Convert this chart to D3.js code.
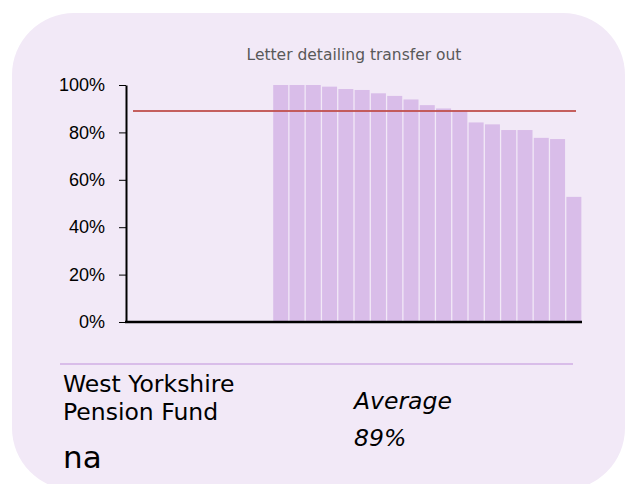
<!DOCTYPE html>
<html>
<head>
<meta charset="utf-8">
<script src="https://cdn.jsdelivr.net/npm/d3@7"></script>
<style>
  html, body { margin: 0; padding: 0; background: #ffffff; }
  svg { display: block; }
</style>
</head>
<body>
<svg id="chart" width="626" height="484"></svg>
<script>
// Funds in ranked order; the first nine have no reported figure.
const categories = [
  "F01","F02","F03","F04","F05","F06","F07","F08","F09","F10",
  "F11","F12","F13","F14","F15","F16","F17","F18","F19","F20",
  "F21","F22","F23","F24","F25","F26","F27","F28"
];
const values = [
  null, null, null, null, null, null, null, null, null,
  100, 100, 100, 99.3, 98.3, 97.9, 96.5, 95.4, 93.9, 91.5,
  90.1, 89.2, 84.2, 83.4, 81.0, 81.0, 77.7, 77.2, 52.8
];
const yTickValues = [0, 20, 40, 60, 80, 100];
const yTickLabels = ["0%", "20%", "40%", "60%", "80%", "100%"];
const averageValue = 89;
const chartTitle = "Letter detailing transfer out";
const fundName = ["West Yorkshire", "Pension Fund"];
const fundValue = "na";
const averageLabel = ["Average", "89%"];

const svg = d3.select("#chart");

// Card background
svg.append("rect")
  .attr("x", 12).attr("y", 13)
  .attr("width", 613).attr("height", 477)
  .attr("rx", 62).attr("ry", 62)
  .attr("fill", "#f2e9f7");

const plot = { left: 126, right: 582, top: 85, bottom: 322 };

const x = d3.scaleBand()
  .domain(categories)
  .range([plot.left, plot.right])
  .paddingInner(0.08)
  .paddingOuter(0.04);

const y = d3.scaleLinear()
  .domain([0, 100])
  .range([plot.bottom, plot.top]);

// Title
svg.append("text")
  .attr("x", (plot.left + plot.right) / 2)
  .attr("y", 60)
  .attr("text-anchor", "middle")
  .attr("font-family", "DejaVu Sans")
  .attr("font-size", 15.5)
  .attr("fill", "#595959")
  .text(chartTitle);

// Bars
const series = categories.map((c, i) => ({ cat: c, v: values[i] })).filter(d => d.v != null);
svg.append("g")
  .selectAll("rect")
  .data(series)
  .join("rect")
  .attr("x", d => x(d.cat))
  .attr("y", d => y(d.v))
  .attr("width", x.bandwidth())
  .attr("height", d => y(0) - y(d.v))
  .attr("fill", "#d9bde9");

// Average line
svg.append("line")
  .attr("x1", 133).attr("x2", 576)
  .attr("y1", y(averageValue)).attr("y2", y(averageValue))
  .attr("stroke", "#c0504d")
  .attr("stroke-opacity", 0.9)
  .attr("stroke-width", 2);

// Y axis
const yAxis = d3.axisLeft(y)
  .tickValues(yTickValues)
  .tickFormat((d, i) => yTickLabels[i])
  .tickSizeInner(7)
  .tickSizeOuter(0)
  .tickPadding(14);

const gy = svg.append("g")
  .attr("transform", `translate(${plot.left},0)`)
  .call(yAxis);
gy.select(".domain").attr("stroke", "#000").attr("stroke-width", 2);
gy.selectAll(".tick line").attr("stroke", "#000").attr("stroke-width", 1);
gy.selectAll(".tick text")
  .attr("font-family", "Liberation Sans")
  .attr("font-size", 18)
  .attr("fill", "#000");

// X axis baseline
svg.append("line")
  .attr("x1", plot.left - 1).attr("x2", plot.right)
  .attr("y1", y(0)).attr("y2", y(0))
  .attr("stroke", "#000")
  .attr("stroke-width", 2.5);

// Separator
svg.append("line")
  .attr("x1", 60).attr("x2", 573)
  .attr("y1", 364).attr("y2", 364)
  .attr("stroke", "#d9bde9")
  .attr("stroke-width", 2);

// Fund name and value
svg.append("g").selectAll("text")
  .data(fundName)
  .join("text")
  .attr("x", 63)
  .attr("y", (d, i) => 392 + i * 28)
  .attr("font-family", "DejaVu Sans")
  .attr("font-size", 23.5)
  .attr("fill", "#000")
  .text(d => d);

svg.append("text")
  .attr("x", 63).attr("y", 468)
  .attr("font-family", "DejaVu Sans")
  .attr("font-size", 31)
  .attr("fill", "#000")
  .text(fundValue);

// Average label
svg.append("g").selectAll("text")
  .data(averageLabel)
  .join("text")
  .attr("x", 354)
  .attr("y", (d, i) => 409 + i * 37)
  .attr("font-family", "DejaVu Sans")
  .attr("font-style", "italic")
  .attr("font-size", 23.5)
  .attr("fill", "#000")
  .text(d => d);
</script>
</body>
</html>
